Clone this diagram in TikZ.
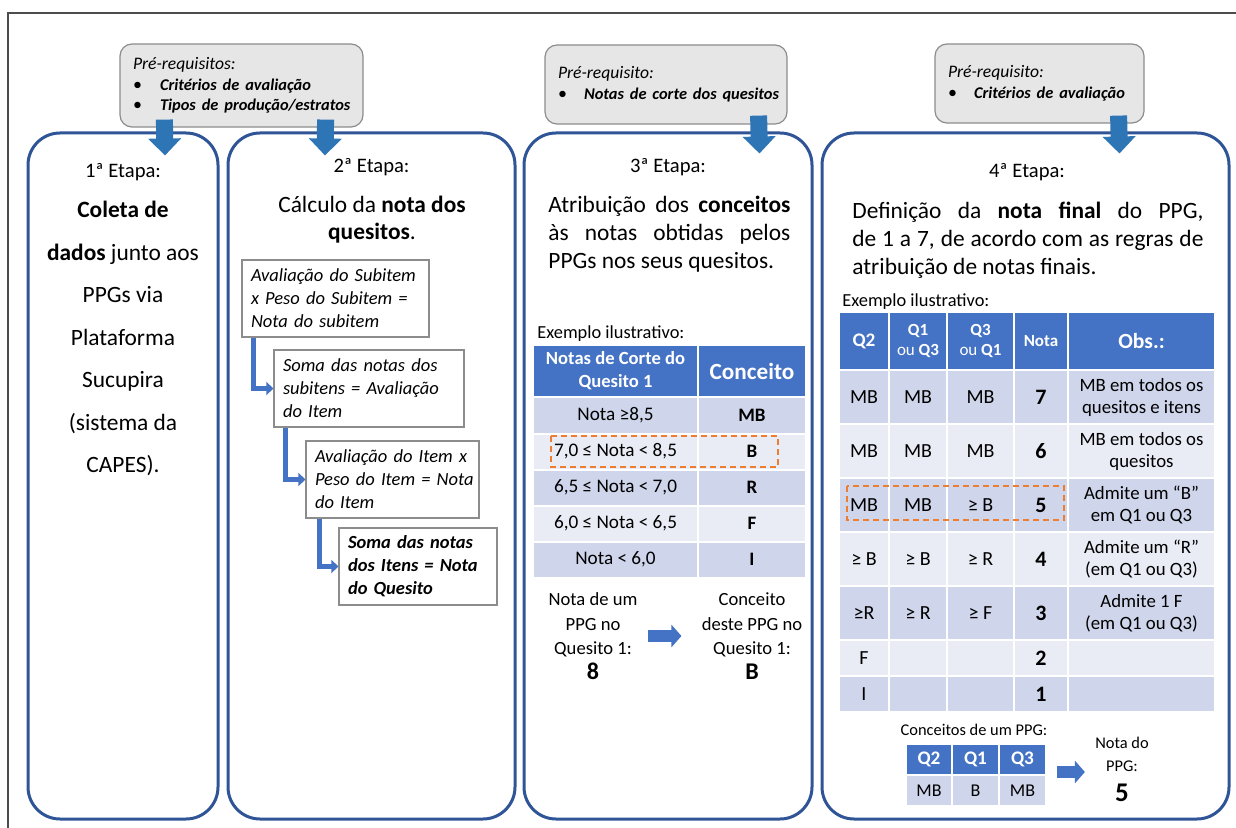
\documentclass[tikz,border=0pt]{standalone}
\usepackage{fontspec}
\setmainfont{Carlito}
\usepackage{tikz}
\usetikzlibrary{arrows.meta}

\definecolor{stblue}{HTML}{2F5597}
\definecolor{arrblue}{HTML}{2E75B6}
\definecolor{accblue}{HTML}{4472C4}
\definecolor{rowdark}{HTML}{CFD5EA}
\definecolor{rowlight}{HTML}{E9EBF5}
\definecolor{preqgray}{HTML}{E7E6E6}
\definecolor{hlorange}{HTML}{ED7D31}

\begin{document}
\begin{tikzpicture}[x=0.5pt,y=-0.5pt]
  \tikzset{stage/.style={draw=stblue, line width=1.5pt, rounded corners=16pt, fill=white, inner sep=0pt, minimum height=343pt} }
  \tikzset{preq/.style={draw=black!45, line width=0.6pt, fill=preqgray, rounded corners=6pt, align=left, inner xsep=6.5pt, inner ysep=0pt, font=\itshape\fontsize{8.8}{10.3}\selectfont} }
  \tikzset{calcbox/.style={draw=black!45, line width=0.6pt, fill=white, align=left, inner xsep=4.5pt, inner ysep=0pt, minimum height=38.5pt, font=\itshape\fontsize{9.25}{11.5}\selectfont} }
  \tikzset{etapa/.style={font=\fontsize{10.3}{12}\selectfont} }
  \tikzset{bigarrow/.style={draw=arrblue, line width=8.5pt, -{Triangle[width=16pt,length=8.5pt]}} }
  \tikzset{elbow/.style={draw=accblue, line width=2.8pt, -{Triangle[width=6.5pt,length=3.5pt]}} }
  \tikzset{rarrow/.style={draw=accblue, line width=6pt, -{Triangle[width=11pt,length=5pt]}} }
  \tikzset{tcell/.style 2 args={draw=white, line width=1pt, inner sep=0pt, minimum width=#1, minimum height=#2, align=center} }
  \tikzset{hcell/.style={fill=accblue, text=white, font=\bfseries\fontsize{9.3}{11.5}\selectfont} }
  \tikzset{dcell/.style={fill=rowdark, font=\fontsize{9.6}{11}\selectfont} }
  \tikzset{lcell/.style={fill=rowlight, font=\fontsize{9.6}{11}\selectfont} }
  \tikzset{bcol/.style={font=\bfseries\fontsize{9.5}{11}\selectfont} }
  \tikzset{ncol/.style={font=\bfseries\fontsize{11}{12}\selectfont} }
  \tikzset{ocol/.style={font=\fontsize{9.4}{11}\selectfont} }
  \tikzset{hilite/.style={draw=hlorange, line width=1pt, dash pattern=on 3pt off 2pt} }
  \tikzset{small/.style={inner sep=0pt, font=\fontsize{9.2}{11}\selectfont} }

  \useasboundingbox (0,0) rectangle (1236,828);
  \draw[black!70, line width=0.7pt] (1236,13) -- (8,13) -- (8,828);

  % pre-requisites
  \node[preq, text width=108.5pt, minimum height=41.5pt] (pre1) at (241.5,85.5) {Pré-requisitos:\\
    \mbox{\fontsize{8.2}{10.3}\selectfont\makebox[13.5pt][l]{\upshape\small\textbullet}\textbf{Critérios de avaliação}}\\
    \mbox{\fontsize{8.2}{10.3}\selectfont\makebox[13.5pt][l]{\upshape\small\textbullet}\textbf{Tipos de produção/estratos}}};
  \node[preq, text width=108pt, minimum height=39.5pt] (pre3) at (666,84.5) {Pré-requisito:\\
    \mbox{\fontsize{8.2}{10.3}\selectfont\makebox[13pt][l]{\upshape\small\textbullet}\textbf{Notas de corte dos quesitos}}};
  \node[preq, text width=91.5pt, minimum height=39.5pt] (pre4) at (1039.5,83.5) {Pré-requisito:\\
    \mbox{\fontsize{8.2}{10.3}\selectfont\makebox[13pt][l]{\upshape\small\textbullet}\textbf{Critérios de avaliação}}};

  % stages
  \node[stage, minimum width=95pt] (st1) at (123,476) {};
  \node[stage, minimum width=143.5pt] (st2) at (371.5,476) {};
  \node[stage, minimum width=144pt] (st3) at (668,476) {};
  \node[stage, minimum width=203.5pt] (st4) at (1025.5,476) {};

  % 1
  \node[etapa] (e1) at (123,172) {1ª Etapa:};
  \node[align=center, font=\fontsize{11.7}{21.25}\selectfont] (t1) at (123,338.5) {\textbf{Coleta de}\\\textbf{dados} junto aos\\PPGs via\\Plataforma\\Sucupira\\(sistema da\\CAPES).};

  % 2
  \node[etapa] (e2) at (371.5,167) {2ª Etapa:};
  \node[align=center, font=\fontsize{11.7}{13.5}\selectfont] (t2) at (372,219.5) {Cálculo da \textbf{nota dos}\\\textbf{quesitos}.};
  \node[calcbox, text width=84.5pt] (ca) at (335.5,298.5) {\mbox{Avaliação do Subitem}\\\mbox{x Peso do Subitem =}\\\mbox{Nota do subitem}};
  \node[calcbox, text width=86pt] (cb) at (369,388.5) {\mbox{Soma das notas dos}\\\mbox{subitens = Avaliação}\\\mbox{do Item}};
  \node[calcbox, text width=77.5pt] (cc) at (392.5,479.5) {\mbox{Avaliação do Item x}\\\mbox{Peso do Item = Nota}\\\mbox{do Item}};
  \node[calcbox, text width=70pt, font=\bfseries\itshape\fontsize{9.25}{11.5}\selectfont] (cd) at (418,566.5) {\mbox{Soma das notas}\\\mbox{dos Itens = Nota}\\\mbox{do Quesito}};
  \draw[elbow] ([xshift=6pt]ca.south west) |- (cb.west);
  \draw[elbow] ([xshift=6pt]cb.south west) |- (cc.west);
  \draw[elbow] ([xshift=7pt]cc.south west) |- (cd.west);

  % 3
  \node[etapa] (e3) at (668,167) {3ª Etapa:};
  \node[anchor=west, align=left, inner sep=0pt, font=\fontsize{11.7}{14}\selectfont] (t3) at (548,234.5) {\makebox[121pt][s]{Atribuição dos \textbf{conceitos}}\\\makebox[121pt][s]{às notas obtidas pelos}\\PPGs nos seus quesitos.};
  \node[small, anchor=west] (ex3) at (537,334) {Exemplo ilustrativo:};
  \node[tcell={82.5pt}{26.25pt}, hcell] (h31) at (615.5,371) {Notas de Corte do\\Quesito 1};
  \node[tcell={54pt}{26.25pt}, hcell, font=\bfseries\fontsize{11.6}{13}\selectfont] (h32) at (752,371) {Conceito};
  \node[tcell={82.5pt}{18pt}, dcell] (a31) at (615.5,415.5) {Nota ≥8,5};
  \node[tcell={54pt}{18pt}, dcell, bcol] (a32) at (752,415.5) {MB};
  \node[tcell={82.5pt}{18pt}, lcell] (b31) at (615.5,451.5) {7,0 ≤ Nota < 8,5};
  \node[tcell={54pt}{18pt}, lcell, bcol] (b32) at (752,451.5) {B};
  \node[tcell={82.5pt}{18pt}, dcell] (c31) at (615.5,487.5) {6,5 ≤ Nota < 7,0};
  \node[tcell={54pt}{18pt}, dcell, bcol] (c32) at (752,487.5) {R};
  \node[tcell={82.5pt}{18pt}, lcell] (d31) at (615.5,523.5) {6,0 ≤ Nota < 6,5};
  \node[tcell={54pt}{18pt}, lcell, bcol] (d32) at (752,523.5) {F};
  \node[tcell={82.5pt}{18pt}, dcell] (f31) at (615.5,559.5) {Nota < 6,0};
  \node[tcell={54pt}{18pt}, dcell, bcol] (f32) at (752,559.5) {I};
  \draw[hilite] (551,436) rectangle (778,467);
  \node[align=center, inner sep=0pt, font=\fontsize{9.3}{12.3}\selectfont] (nota8) at (593,636) {Nota de um\\PPG no\\Quesito 1:\\{\bfseries\fontsize{12}{12}\selectfont 8}};
  \node[align=center, inner sep=0pt, font=\fontsize{9.3}{12.3}\selectfont] (concB) at (752,636) {Conceito\\deste PPG no\\Quesito 1:\\{\bfseries\fontsize{12}{12}\selectfont B}};
  \draw[rarrow] ([xshift=5pt]nota8.east) -- ([xshift=-10pt]concB.west);

  % 4
  \node[etapa] (e4) at (1027,172) {4ª Etapa:};
  \node[anchor=west, align=left, inner sep=0pt, font=\fontsize{11.7}{14}\selectfont] (t4) at (852,240) {\makebox[175.5pt][s]{Definição da \textbf{nota final} do PPG,}\\\makebox[175.5pt][s]{de 1 a 7, de acordo com as regras de}\\atribuição de notas finais.};
  \node[small, anchor=west] (ex4) at (842,302) {Exemplo ilustrativo:};
  \node[tcell={25pt}{29pt}, hcell, font=\bfseries\fontsize{9.6}{11}\selectfont] (h41) at (864,341) {Q2};
  \node[tcell={29pt}{29pt}, hcell, font=\bfseries\fontsize{8.5}{10}\selectfont] (h42) at (918,341) {Q1\\{\mdseries ou} Q3};
  \node[tcell={33.5pt}{29pt}, hcell, font=\bfseries\fontsize{8.5}{10}\selectfont] (h43) at (980.5,341) {Q3\\{\mdseries ou} Q1};
  \node[tcell={27pt}{29pt}, hcell, font=\bfseries\fontsize{8.5}{10}\selectfont] (h44) at (1041,341) {Nota};
  \node[tcell={73.5pt}{29pt}, hcell, font=\bfseries\fontsize{10.8}{12}\selectfont] (h45) at (1141.5,341) {Obs.:};

  \node[tcell={25pt}{27pt}, dcell, font=\fontsize{10}{11}\selectfont] (r71) at (864,397) {MB};
  \node[tcell={29pt}{27pt}, dcell, font=\fontsize{10}{11}\selectfont] (r72) at (918,397) {MB};
  \node[tcell={33.5pt}{27pt}, dcell, font=\fontsize{10}{11}\selectfont] (r73) at (980.5,397) {MB};
  \node[tcell={27pt}{27pt}, dcell, ncol] (r74) at (1041,397) {7};
  \node[tcell={73.5pt}{27pt}, dcell, ocol] (r75) at (1141.5,397) {MB em todos os\\quesitos e itens};

  \node[tcell={25pt}{27pt}, lcell, font=\fontsize{10}{11}\selectfont] (r61) at (864,451) {MB};
  \node[tcell={29pt}{27pt}, lcell, font=\fontsize{10}{11}\selectfont] (r62) at (918,451) {MB};
  \node[tcell={33.5pt}{27pt}, lcell, font=\fontsize{10}{11}\selectfont] (r63) at (980.5,451) {MB};
  \node[tcell={27pt}{27pt}, lcell, ncol] (r64) at (1041,451) {6};
  \node[tcell={73.5pt}{27pt}, lcell, ocol] (r65) at (1141.5,451) {MB em todos os\\quesitos};

  \node[tcell={25pt}{27pt}, dcell, font=\fontsize{10}{11}\selectfont] (r51) at (864,505) {MB};
  \node[tcell={29pt}{27pt}, dcell, font=\fontsize{10}{11}\selectfont] (r52) at (918,505) {MB};
  \node[tcell={33.5pt}{27pt}, dcell, font=\fontsize{10}{11}\selectfont] (r53) at (980.5,505) {≥ B};
  \node[tcell={27pt}{27pt}, dcell, ncol] (r54) at (1041,505) {5};
  \node[tcell={73.5pt}{27pt}, dcell, ocol] (r55) at (1141.5,505) {Admite um “B”\\em Q1 ou Q3};

  \node[tcell={25pt}{27pt}, lcell, font=\fontsize{10}{11}\selectfont] (r41) at (864,559) {≥ B};
  \node[tcell={29pt}{27pt}, lcell, font=\fontsize{10}{11}\selectfont] (r42) at (918,559) {≥ B};
  \node[tcell={33.5pt}{27pt}, lcell, font=\fontsize{10}{11}\selectfont] (r43) at (980.5,559) {≥ R};
  \node[tcell={27pt}{27pt}, lcell, ncol] (r44) at (1041,559) {4};
  \node[tcell={73.5pt}{27pt}, lcell, ocol] (r45) at (1141.5,559) {Admite um “R”\\(em Q1 ou Q3)};

  \node[tcell={25pt}{27pt}, dcell, font=\fontsize{10}{11}\selectfont] (r31) at (864,613) {≥R};
  \node[tcell={29pt}{27pt}, dcell, font=\fontsize{10}{11}\selectfont] (r32) at (918,613) {≥ R};
  \node[tcell={33.5pt}{27pt}, dcell, font=\fontsize{10}{11}\selectfont] (r33) at (980.5,613) {≥ F};
  \node[tcell={27pt}{27pt}, dcell, ncol] (r34) at (1041,613) {3};
  \node[tcell={73.5pt}{27pt}, dcell, ocol] (r35) at (1141.5,613) {Admite 1 F\\(em Q1 ou Q3)};

  \node[tcell={25pt}{18pt}, lcell, font=\fontsize{10}{11}\selectfont] (r21) at (864,658) {F};
  \node[tcell={29pt}{18pt}, lcell] (r22) at (918,658) {};
  \node[tcell={33.5pt}{18pt}, lcell] (r23) at (980.5,658) {};
  \node[tcell={27pt}{18pt}, lcell, ncol] (r24) at (1041,658) {2};
  \node[tcell={73.5pt}{18pt}, lcell] (r25) at (1141.5,658) {};

  \node[tcell={25pt}{18pt}, dcell, font=\fontsize{10}{11}\selectfont] (r11) at (864,694) {I};
  \node[tcell={29pt}{18pt}, dcell] (r12) at (918,694) {};
  \node[tcell={33.5pt}{18pt}, dcell] (r13) at (980.5,694) {};
  \node[tcell={27pt}{18pt}, dcell, ncol] (r14) at (1041,694) {1};
  \node[tcell={73.5pt}{18pt}, dcell] (r15) at (1141.5,694) {};
  \draw[hilite] (847,486) rectangle (1064,520);

  \node[inner sep=0pt, font=\fontsize{8.2}{10}\selectfont] (cppg) at (974,730) {Conceitos de um PPG:};
  \node[tcell={23pt}{15.5pt}, hcell, font=\bfseries\fontsize{9.6}{11}\selectfont] (sq2h) at (929,759.5) {Q2};
  \node[tcell={23.5pt}{15.5pt}, hcell, font=\bfseries\fontsize{9.6}{11}\selectfont] (sq1h) at (975.5,759.5) {Q1};
  \node[tcell={23.5pt}{15.5pt}, hcell, font=\bfseries\fontsize{9.6}{11}\selectfont] (sq3h) at (1022.5,759.5) {Q3};
  \node[tcell={23pt}{15.5pt}, dcell, font=\fontsize{9}{11}\selectfont] (sq2) at (929,790.5) {MB};
  \node[tcell={23.5pt}{15.5pt}, dcell, font=\fontsize{9}{11}\selectfont] (sq1) at (975.5,790.5) {B};
  \node[tcell={23.5pt}{15.5pt}, dcell, font=\fontsize{9}{11}\selectfont] (sq3) at (1022.5,790.5) {MB};
  \node[align=center, inner sep=0pt, font=\fontsize{8.2}{11.5}\selectfont] (ppg) at (1122,769) {Nota do\\PPG:\\[3.5pt]{\bfseries\fontsize{13.5}{13}\selectfont 5}};
  \draw[rarrow] ([xshift=5pt,yshift=2pt]sq3h.south east) -- ([xshift=-5pt,yshift=2pt]ppg.west |- sq3h.south east);

  % pre-requisite arrows
  \draw[bigarrow] ([xshift=22.5pt,yshift=4pt]pre1.south west) -- ([xshift=21pt,yshift=-12pt]st1.north);
  \draw[bigarrow] ([xshift=-19pt,yshift=4pt]pre1.south east) -- ([xshift=-23.25pt,yshift=-12pt]st2.north);
  \draw[bigarrow] ([xshift=-14.5pt,yshift=4.5pt]pre3.south east) -- ([xshift=-27pt,yshift=-11pt]st3.north east);
  \draw[bigarrow] ([xshift=-13pt,yshift=4pt]pre4.south east) -- ([xshift=-55.5pt,yshift=-11pt]st4.north east);
\end{tikzpicture}
\end{document}
